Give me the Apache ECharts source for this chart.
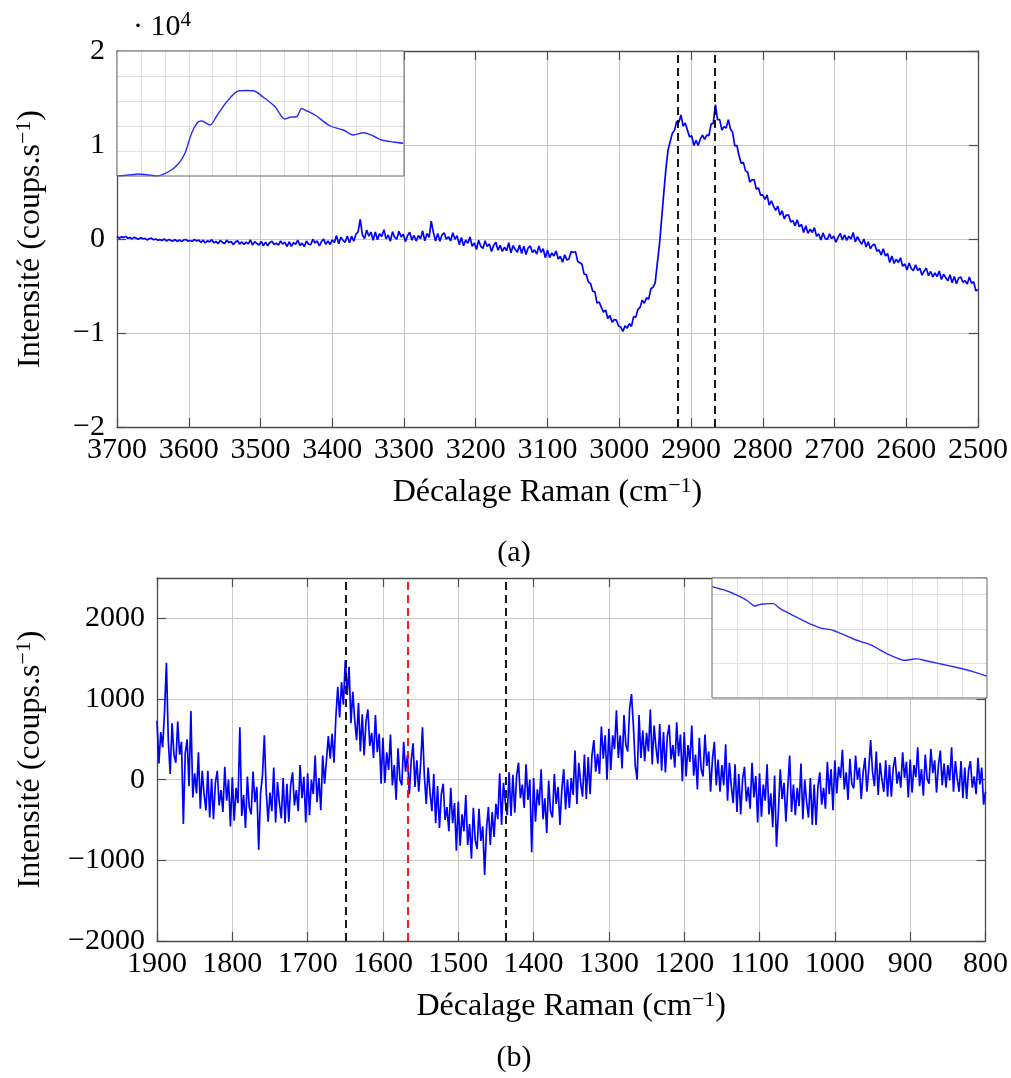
<!DOCTYPE html>
<html>
<head>
<meta charset="utf-8">
<script src="https://cdn.jsdelivr.net/npm/echarts@6/dist/echarts.min.js"></script>
<style>
  html, body { margin: 0; background: #fff; }
  #chart { width: 1011px; height: 1078px; }
</style>
</head>
<body>
<div id="chart"></div>
<script>
// (a) high wavenumber region, counts.s-1
const shiftA = [
  3700, 3697, 3694, 3691, 3688, 3685, 3682, 3679, 3676, 3673,
  3670, 3667, 3664, 3661, 3658, 3655, 3652, 3649, 3646, 3643,
  3640, 3637, 3634, 3631, 3628, 3625, 3622, 3619, 3616, 3613,
  3610, 3607, 3604, 3601, 3598, 3595, 3592, 3589, 3586, 3583,
  3580, 3577, 3574, 3571, 3568, 3565, 3562, 3559, 3556, 3553,
  3550, 3547, 3544, 3541, 3538, 3535, 3532, 3529, 3526, 3523,
  3520, 3517, 3514, 3511, 3508, 3505, 3502, 3499, 3496, 3493,
  3490, 3487, 3484, 3481, 3478, 3475, 3472, 3469, 3466, 3463,
  3460, 3457, 3454, 3451, 3448, 3445, 3442, 3439, 3436, 3433,
  3430, 3427, 3424, 3421, 3418, 3415, 3412, 3409, 3406, 3403,
  3400, 3397, 3394, 3391, 3388, 3385, 3382, 3379, 3376, 3373,
  3370, 3367, 3364, 3361, 3358, 3355, 3352, 3349, 3346, 3343,
  3340, 3337, 3334, 3331, 3328, 3325, 3322, 3319, 3316, 3313,
  3310, 3307, 3304, 3301, 3298, 3295, 3292, 3289, 3286, 3283,
  3280, 3277, 3274, 3271, 3268, 3265, 3262, 3259, 3256, 3253,
  3250, 3247, 3244, 3241, 3238, 3235, 3232, 3229, 3226, 3223,
  3220, 3217, 3214, 3211, 3208, 3205, 3202, 3199, 3196, 3193,
  3190, 3187, 3184, 3181, 3178, 3175, 3172, 3169, 3166, 3163,
  3160, 3157, 3154, 3151, 3148, 3145, 3142, 3139, 3136, 3133,
  3130, 3127, 3124, 3121, 3118, 3115, 3112, 3109, 3106, 3103,
  3100, 3097, 3094, 3091, 3088, 3085, 3082, 3079, 3076, 3073,
  3070, 3067, 3064, 3061, 3058, 3055, 3052, 3049, 3046, 3043,
  3040, 3037, 3034, 3031, 3028, 3025, 3022, 3019, 3016, 3013,
  3010, 3007, 3004, 3001, 2998, 2995, 2992, 2989, 2986, 2983,
  2980, 2977, 2974, 2971, 2968, 2965, 2962, 2959, 2956, 2953,
  2950, 2947, 2944, 2941, 2938, 2935, 2932, 2929, 2926, 2923,
  2920, 2917, 2914, 2911, 2908, 2905, 2902, 2899, 2896, 2893,
  2890, 2887, 2884, 2881, 2878, 2875, 2872, 2869, 2866, 2863,
  2860, 2857, 2854, 2851, 2848, 2845, 2842, 2839, 2836, 2833,
  2830, 2827, 2824, 2821, 2818, 2815, 2812, 2809, 2806, 2803,
  2800, 2797, 2794, 2791, 2788, 2785, 2782, 2779, 2776, 2773,
  2770, 2767, 2764, 2761, 2758, 2755, 2752, 2749, 2746, 2743,
  2740, 2737, 2734, 2731, 2728, 2725, 2722, 2719, 2716, 2713,
  2710, 2707, 2704, 2701, 2698, 2695, 2692, 2689, 2686, 2683,
  2680, 2677, 2674, 2671, 2668, 2665, 2662, 2659, 2656, 2653,
  2650, 2647, 2644, 2641, 2638, 2635, 2632, 2629, 2626, 2623,
  2620, 2617, 2614, 2611, 2608, 2605, 2602, 2599, 2596, 2593,
  2590, 2587, 2584, 2581, 2578, 2575, 2572, 2569, 2566, 2563,
  2560, 2557, 2554, 2551, 2548, 2545, 2542, 2539, 2536, 2533,
  2530, 2527, 2524, 2521, 2518, 2515, 2512, 2509, 2506, 2503,
  2500
];
const countsA = [
  270, 90, 220, 150, 280, 80, 150, 10, 200, 60,
  -10, 150, 20, 70, -100, 20, 90, -90, 10, -130,
  -70, -160, 20, -220, -55, -150, -220, -60, -260, -100,
  -285, -110, -55, -225, -155, -265, -45, -215, -115, -350,
  -130, -415, -200, -305, -70, -395, -260, -485, -150, -360,
  -475, -130, -385, -265, -595, -325, -180, -535, -315, -575,
  -340, -525, -110, -655, -270, -485, -640, -255, -710, -330,
  -720, -365, -250, -585, -440, -655, -210, -545, -340, -800,
  -290, -775, -385, -555, -130, -685, -435, -815, -215, -555,
  -600, -30, -420, -210, -720, -270, -20, -570, -200, -580,
  -100, -370, 360, -500, 180, -140, -350, 330, -390, 300,
  -240, 500, 760, 2100, 440, 40, 960, 310, 740, -150,
  760, -85, 570, 265, 980, 15, 430, -235, 780, 170,
  0, 830, 220, 510, -280, 370, 720, -130, 400, -220,
  370, 20, 870, -200, 590, 180, 1900, 680, -210, 590,
  -240, 450, 660, -30, 240, -210, 660, -30, 360, -600,
  160, -725, -110, -455, 220, -785, -410, -1115, -140, -780,
  -1000, -180, -800, -520, -1320, -680, -340, -1200, -680, -1320,
  -880, -1240, -400, -1480, -700, -1120, -1420, -640, -1540, -760,
  -1640, -950, -740, -1430, -1160, -1610, -740, -1430, -1040, -2000,
  -1200, -1970, -1480, -1800, -1270, -2130, -1850, -2470, -1680, -2250,
  -2100, -1340, -1440, -1340, -2360, -2520, -2680, -3740, -3780, -4580,
  -4720, -5560, -5600, -6820, -6700, -7280, -7780, -7560, -8460, -8140,
  -8860, -8580, -8620, -9260, -9360, -9840, -9240, -9480, -9000, -9300,
  -8260, -8320, -7480, -7280, -6500, -6840, -6260, -6400, -5320, -5120,
  -4700, -2620, -620, 2080, 4820, 7440, 9460, 10380, 11260, 11560,
  12500, 12400, 13200, 12000, 12350, 11600, 10850, 11000, 9950, 10500,
  9950, 10650, 11050, 10600, 11050, 11000, 12250, 12300, 14300, 12700,
  12700, 11600, 11950, 11800, 12700, 11700, 11350, 9900, 9950, 8850,
  8050, 8150, 7250, 7100, 6050, 6300, 6300, 5300, 5450, 4650,
  4700, 4200, 4700, 3600, 4050, 3500, 3050, 3500, 2550, 3000,
  2150, 2550, 2550, 1800, 1950, 1400, 2050, 1300, 1550, 700,
  1400, 600, 1050, 700, 1200, 300, 550, -100, 650, 50,
  -50, 550, 50, 300, -350, 200, 600, -100, 450, -150,
  300, 0, 700, -300, 250, -200, -550, 0, -850, -300,
  -1050, -650, -550, -1300, -1150, -1700, -1050, -1800, -1550, -2500,
  -1800, -2600, -2150, -2500, -2000, -2900, -2650, -3300, -2550, -3150,
  -3350, -2750, -3350, -3100, -3850, -3400, -3100, -3900, -3450, -4050,
  -3600, -4000, -3400, -4300, -3750, -4100, -4450, -3800, -4650, -4000,
  -4750, -4150, -4050, -4600, -4450, -4800, -4050, -4700, -4550, -5500,
  -5400
];
const peaksA = [2918, 2867];

// inset of (a), in grid divisions
const insetShiftA = [3700, 3670, 3640, 3611, 3576, 3534, 3485, 3444, 3416, 3388,
  3364, 3346, 3311, 3283, 3241, 3193, 3160, 3130, 3088, 3039,
  2998, 2977, 2949, 2928, 2907, 2872, 2810, 2754, 2712, 2670,
  2628, 2593, 2545, 2503];
const insetLevelA = [0, 0.02, 0.05, 0.08, 0.05, 0, 0.17, 0.48, 0.91, 1.71,
  2.13, 2.2, 2.04, 2.4, 2.97, 3.4, 3.42, 3.41, 3.15, 2.77,
  2.28, 2.35, 2.37, 2.7, 2.61, 2.44, 2.01, 1.84, 1.64, 1.73,
  1.6, 1.44, 1.36, 1.31];

// (b) fingerprint region
const shiftB = [
  1900, 1897.5, 1895, 1892.5, 1890, 1887.5, 1885, 1882.5, 1880, 1877.5,
  1875, 1872.5, 1870, 1867.5, 1865, 1862.5, 1860, 1857.5, 1855, 1852.5,
  1850, 1847.5, 1845, 1842.5, 1840, 1837.5, 1835, 1832.5, 1830, 1827.5,
  1825, 1822.5, 1820, 1817.5, 1815, 1812.5, 1810, 1807.5, 1805, 1802.5,
  1800, 1797.5, 1795, 1792.5, 1790, 1787.5, 1785, 1782.5, 1780, 1777.5,
  1775, 1772.5, 1770, 1767.5, 1765, 1762.5, 1760, 1757.5, 1755, 1752.5,
  1750, 1747.5, 1745, 1742.5, 1740, 1737.5, 1735, 1732.5, 1730, 1727.5,
  1725, 1722.5, 1720, 1717.5, 1715, 1712.5, 1710, 1707.5, 1705, 1702.5,
  1700, 1697.5, 1695, 1692.5, 1690, 1687.5, 1685, 1682.5, 1680, 1677.5,
  1675, 1672.5, 1670, 1667.5, 1665, 1662.5, 1660, 1657.5, 1655, 1652.5,
  1650, 1647.5, 1645, 1642.5, 1640, 1637.5, 1635, 1632.5, 1630, 1627.5,
  1625, 1622.5, 1620, 1617.5, 1615, 1612.5, 1610, 1607.5, 1605, 1602.5,
  1600, 1597.5, 1595, 1592.5, 1590, 1587.5, 1585, 1582.5, 1580, 1577.5,
  1575, 1572.5, 1570, 1567.5, 1565, 1562.5, 1560, 1557.5, 1555, 1552.5,
  1550, 1547.5, 1545, 1542.5, 1540, 1537.5, 1535, 1532.5, 1530, 1527.5,
  1525, 1522.5, 1520, 1517.5, 1515, 1512.5, 1510, 1507.5, 1505, 1502.5,
  1500, 1497.5, 1495, 1492.5, 1490, 1487.5, 1485, 1482.5, 1480, 1477.5,
  1475, 1472.5, 1470, 1467.5, 1465, 1462.5, 1460, 1457.5, 1455, 1452.5,
  1450, 1447.5, 1445, 1442.5, 1440, 1437.5, 1435, 1432.5, 1430, 1427.5,
  1425, 1422.5, 1420, 1417.5, 1415, 1412.5, 1410, 1407.5, 1405, 1402.5,
  1400, 1397.5, 1395, 1392.5, 1390, 1387.5, 1385, 1382.5, 1380, 1377.5,
  1375, 1372.5, 1370, 1367.5, 1365, 1362.5, 1360, 1357.5, 1355, 1352.5,
  1350, 1347.5, 1345, 1342.5, 1340, 1337.5, 1335, 1332.5, 1330, 1327.5,
  1325, 1322.5, 1320, 1317.5, 1315, 1312.5, 1310, 1307.5, 1305, 1302.5,
  1300, 1297.5, 1295, 1292.5, 1290, 1287.5, 1285, 1282.5, 1280, 1277.5,
  1275, 1272.5, 1270, 1267.5, 1265, 1262.5, 1260, 1257.5, 1255, 1252.5,
  1250, 1247.5, 1245, 1242.5, 1240, 1237.5, 1235, 1232.5, 1230, 1227.5,
  1225, 1222.5, 1220, 1217.5, 1215, 1212.5, 1210, 1207.5, 1205, 1202.5,
  1200, 1197.5, 1195, 1192.5, 1190, 1187.5, 1185, 1182.5, 1180, 1177.5,
  1175, 1172.5, 1170, 1167.5, 1165, 1162.5, 1160, 1157.5, 1155, 1152.5,
  1150, 1147.5, 1145, 1142.5, 1140, 1137.5, 1135, 1132.5, 1130, 1127.5,
  1125, 1122.5, 1120, 1117.5, 1115, 1112.5, 1110, 1107.5, 1105, 1102.5,
  1100, 1097.5, 1095, 1092.5, 1090, 1087.5, 1085, 1082.5, 1080, 1077.5,
  1075, 1072.5, 1070, 1067.5, 1065, 1062.5, 1060, 1057.5, 1055, 1052.5,
  1050, 1047.5, 1045, 1042.5, 1040, 1037.5, 1035, 1032.5, 1030, 1027.5,
  1025, 1022.5, 1020, 1017.5, 1015, 1012.5, 1010, 1007.5, 1005, 1002.5,
  1000, 997.5, 995, 992.5, 990, 987.5, 985, 982.5, 980, 977.5,
  975, 972.5, 970, 967.5, 965, 962.5, 960, 957.5, 955, 952.5,
  950, 947.5, 945, 942.5, 940, 937.5, 935, 932.5, 930, 927.5,
  925, 922.5, 920, 917.5, 915, 912.5, 910, 907.5, 905, 902.5,
  900, 897.5, 895, 892.5, 890, 887.5, 885, 882.5, 880, 877.5,
  875, 872.5, 870, 867.5, 865, 862.5, 860, 857.5, 855, 852.5,
  850, 847.5, 845, 842.5, 840, 837.5, 835, 832.5, 830, 827.5,
  825, 822.5, 820, 817.5, 815, 812.5, 810, 807.5, 805, 802.5,
  800
];
const countsB = [
  730, 200, 590, 400, 840, 1450, 490, 70, 700, 310,
  210, 720, 310, 470, -550, 330, 500, -80, 850, -220,
  80, -170, 340, -360, 110, -180, -380, 110, -470, 10,
  -490, -40, 110, -320, -130, -400, 160, -260, 0, -580,
  30, -510, -100, -290, 650, -450, -190, -600, 40, -340,
  -430, 100, -280, -90, -870, -170, 50, 550, -140, -520,
  -160, -390, 150, -530, -30, -290, -480, 20, -540, -50,
  -520, -60, 90, -320, -130, -390, 180, -230, 35, -530,
  80, -440, 0, -180, 300, -280, 20, -380, 300, -50,
  -70, 540, 260, 570, 210, 780, 1150, 770, 1210, 930,
  1480, 1050, 1400, 700, 1090, 740, 490, 950, 350, 810,
  300, 730, 870, 420, 580, 270, 800, 340, 570, -50,
  520, -40, 340, 120, 560, -70, 180, -250, 390, 0,
  -70, 470, 100, 300, -180, 240, 450, -90, 240, -150,
  190, 650, 40, -300, 150, -160, -390, 70, -540, -80,
  -600, -180, -50, -500, -340, -640, -100, -540, -290, -880,
  -270, -820, -430, -640, -190, -810, -550, -980, -350, -750,
  -860, -360, -760, -580, -1180, -610, -340, -810, -400, -710,
  -300, -490, 80, -560, -40, -280, -440, 90, -450, 60,
  -410, 50, 210, -230, -60, -350, 190, -250, 0, -900,
  20, -520, -120, -320, 130, -490, -230, -660, -10, -390,
  -470, 70, -300, -90, -560, -120, 130, -370, 0, -350,
  20, -190, 360, -300, 210, -40, -210, 310, -240, 280,
  -180, 300, 490, 100, 320, 70, 660, 260, 550, 0,
  630, 120, 550, 380, 860, 270, 550, 140, 800, 430,
  350, 880, 1060, 670, 170, 0, 800, 270, 610, 230,
  580, 350, 870, 190, 670, 400, 200, 690, 110, 590,
  90, 530, 680, 250, 430, 150, 710, 290, 560, -20,
  590, 40, 430, 220, 670, 50, 310, -120, 520, 130,
  40, 560, 170, 350, -150, 260, 470, -70, 250, -150,
  180, -70, 440, -260, 210, -80, -290, 190, -400, 70,
  -430, 10, 160, -270, -90, -360, 210, -220, 45, -530,
  80, -460, -60, -260, 190, -430, -170, -590, 50, -830,
  -400, 130, -240, -40, -520, -100, 300, -400, -60, -440,
  -100, -330, 200, -490, 0, -280, -470, 20, -560, -60,
  -560, -90, 90, -310, -100, -360, 220, -180, 130, -380,
  240, -170, 160, 20, 370, -120, 90, -250, 260, -50,
  -110, 300, 0, 150, -240, 90, 270, -150, 130, 490,
  100, -80, 350, -190, 210, 0, -150, 240, -210, 180,
  -210, 150, 280, -50, 100, -100, 340, 20, 220, -220,
  250, -160, 180, 30, 400, -80, 130, -200, 310, 10,
  -50, 380, 80, 240, -160, 180, 360, -70, 200, -100,
  180, -10, 400, -150, 230, 10, -150, 230, -230, 150,
  -240, 120, 230, -100, 40, -180, 270, -60, 150, -310,
  -150
];
const peaksB = [1649, 1437];
const peakRedB = 1567;

const insetShiftB = [1899, 1870, 1841, 1815, 1788, 1760, 1728, 1710, 1695, 1675,
  1655, 1630, 1601, 1570, 1535, 1500, 1468, 1440, 1421, 1400,
  1375, 1350, 1321, 1290, 1261, 1230, 1201, 1165, 1128, 1100,
  1081, 1040, 1001, 950, 895, 850, 801];
const insetLevelB = [3.22, 3.16, 3.10, 3.02, 2.93, 2.82, 2.66, 2.70, 2.72, 2.73,
  2.73, 2.60, 2.48, 2.37, 2.24, 2.12, 2.03, 1.99, 1.97, 1.91,
  1.84, 1.76, 1.67, 1.60, 1.52, 1.40, 1.28, 1.17, 1.09, 1.12,
  1.13, 1.07, 1.01, 0.93, 0.84, 0.75, 0.63];

const serif = "'Liberation Serif', 'DejaVu Serif', serif";
const frame = "#4d4d4d";
const gridGray = "#c8c8c8";

const chart = echarts.init(document.getElementById("chart"), null, { renderer: "canvas" });

const pairs = (xs, ys) => xs.map((x, i) => [x, ys[i]]);

const richTitle = {
  t: { fontFamily: serif, fontSize: 32, lineHeight: 36, color: "#000" },
  s: { fontFamily: serif, fontSize: 22, lineHeight: 22, color: "#000", verticalAlign: "top" },
};

function frameX(gridIndex, min, max, position, main) {
  return {
    type: "value", gridIndex, min, max, interval: 100, inverse: true, position,
    axisLine: { show: true, onZero: false, lineStyle: { color: frame, width: 1.3 } },
    axisTick: { show: true, inside: true, length: 9, lineStyle: { color: frame, width: 1.2 } },
    axisLabel: main
      ? { fontFamily: serif, fontSize: 30, color: "#000", margin: 8, formatter: (v) => String(v) }
      : { show: false },
    splitLine: main
      ? { show: true, showMinLine: false, showMaxLine: false, lineStyle: { color: gridGray, width: 1 } }
      : { show: false },
    name: main ? "{t|Décalage Raman (cm}{s|\u22121}{t|)}" : "",
    nameLocation: "middle",
    nameGap: 48,
    nameTextStyle: { rich: richTitle },
  };
}

function frameY(gridIndex, min, max, interval, position, main, fmt, gap) {
  return {
    type: "value", gridIndex, min, max, interval, position,
    axisLine: { show: true, onZero: false, lineStyle: { color: frame, width: 1.3 } },
    axisTick: { show: true, inside: true, length: 9, lineStyle: { color: frame, width: 1.2 } },
    axisLabel: main
      ? { fontFamily: serif, fontSize: 30, color: "#000", margin: 12, formatter: fmt, showMaxLabel: max % interval === 0 }
      : { show: false },
    splitLine: main
      ? { show: true, showMinLine: false, showMaxLine: false, lineStyle: { color: gridGray, width: 1 } }
      : { show: false },
    name: main ? "{t|Intensité (coups.s}{s|\u22121}{t|)}" : "",
    nameLocation: "middle",
    nameGap: gap,
    nameTextStyle: { rich: richTitle },
  };
}

function insetX(gridIndex, min, max) {
  return {
    type: "value", gridIndex, min, max, interval: 100, inverse: true, z: 6,
    axisLine: { show: false, onZero: false }, axisTick: { show: false }, axisLabel: { show: false },
    splitLine: { show: true, showMinLine: false, showMaxLine: false, lineStyle: { color: "#e0e0e0", width: 1 } },
  };
}

function insetY(gridIndex, max) {
  return {
    type: "value", gridIndex, min: 0, max, interval: 1, z: 6,
    axisLine: { show: false, onZero: false }, axisTick: { show: false }, axisLabel: { show: false },
    splitLine: { show: true, showMinLine: false, showMaxLine: false, lineStyle: { color: "#e0e0e0", width: 1 } },
  };
}

const minus = (s) => String(s).replace("-", "\u2212");
const fmtA = (v) => minus(v / 10000);
const fmtB = (v) => minus(v);

const insetBoxA = { x: 117, y: 51, width: 287, height: 125 };
const insetBoxB = { x: 712, y: 578, width: 275, height: 120 };

const dash = (color) => ({ color, type: [8, 5], width: 1.8 });

chart.setOption({
  animation: false,
  grid: [
    { left: 117, top: 51, width: 862, height: 376 },
    { left: 117, top: 51, width: 287, height: 125 },
    { left: 157, top: 578, width: 830, height: 363 },
    { left: 712, top: 578, width: 275, height: 120 },
  ],
  xAxis: [
    frameX(0, 2500, 3700, "bottom", true),
    frameX(0, 2500, 3700, "top", false),
    insetX(1, 2500, 3700),
    frameX(2, 800, 1900, "bottom", true),
    frameX(2, 800, 1900, "top", false),
    insetX(3, 800, 1900),
  ],
  yAxis: [
    frameY(0, -20000, 20000, 10000, "left", true, fmtA, 68),
    frameY(0, -20000, 20000, 10000, "right", false, null, 0),
    insetY(1, 5),
    frameY(2, -2000, 2500, 1000, "left", true, fmtB, 108),
    frameY(2, -2000, 2500, 1000, "right", false, null, 0),
    insetY(3, 3.47),
  ],
  graphic: [
    { type: "rect", z: 5, shape: insetBoxA, style: { fill: "#fff" } },
    { type: "rect", z: 8, shape: insetBoxA, style: { fill: "none", stroke: "#666", lineWidth: 1 } },
    { type: "rect", z: 5, shape: insetBoxB, style: { fill: "#fff" } },
    { type: "rect", z: 8, shape: insetBoxB, style: { fill: "none", stroke: "#666", lineWidth: 1 } },
    {
      type: "text", x: 133, y: 10, z: 10,
      style: {
        text: "{t|\u00b7 10}{s|4}",
        rich: {
          t: { fontFamily: serif, fontSize: 30, lineHeight: 35, fill: "#000" },
          s: { fontFamily: serif, fontSize: 21, lineHeight: 21, fill: "#000", verticalAlign: "top" },
        },
      },
    },
    { type: "text", x: 514, y: 553, z: 10, style: { text: "(a)", fontFamily: serif, fontSize: 30, fill: "#000", align: "center", verticalAlign: "middle" } },
    { type: "text", x: 514, y: 1058, z: 10, style: { text: "(b)", fontFamily: serif, fontSize: 30, fill: "#000", align: "center", verticalAlign: "middle" } },
  ],
  series: [
    {
      type: "line", xAxisIndex: 0, yAxisIndex: 0, z: 3,
      data: pairs(shiftA, countsA),
      symbol: "none", lineStyle: { color: "#0000ff", width: 1.7 },
      emphasis: { disabled: true },
      markLine: {
        silent: true, animation: false, symbol: ["none", "none"], label: { show: false },
        lineStyle: dash("#000"),
        data: peaksA.map((x) => ({ xAxis: x })),
      },
    },
    {
      type: "line", xAxisIndex: 2, yAxisIndex: 2, z: 7,
      data: pairs(insetShiftA, insetLevelA),
      symbol: "none", smooth: 0.3, lineStyle: { color: "#2a2aff", width: 1.4 },
      emphasis: { disabled: true },
    },
    {
      type: "line", xAxisIndex: 3, yAxisIndex: 3, z: 3,
      data: pairs(shiftB, countsB),
      symbol: "none", lineStyle: { color: "#0000ff", width: 1.7 },
      emphasis: { disabled: true },
      markLine: {
        silent: true, animation: false, symbol: ["none", "none"], label: { show: false },
        data: [
          { xAxis: peaksB[0], lineStyle: dash("#000") },
          { xAxis: peakRedB, lineStyle: dash("#ff0000") },
          { xAxis: peaksB[1], lineStyle: dash("#000") },
        ],
      },
    },
    {
      type: "line", xAxisIndex: 5, yAxisIndex: 5, z: 7,
      data: pairs(insetShiftB, insetLevelB),
      symbol: "none", smooth: 0.3, lineStyle: { color: "#2a2aff", width: 1.4 },
      emphasis: { disabled: true },
    },
  ],
});
</script>
</body>
</html>
